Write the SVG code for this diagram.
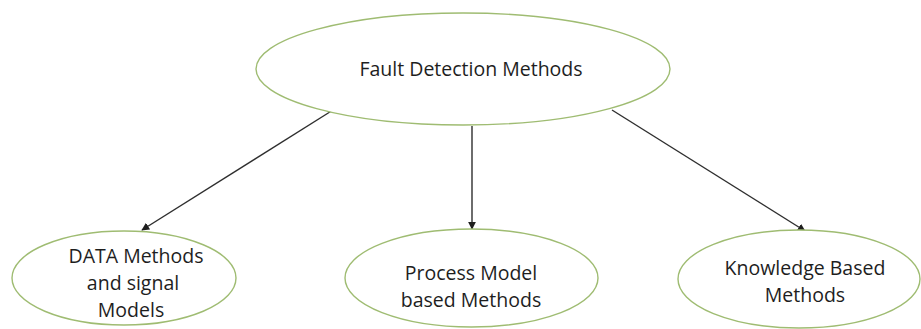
<svg xmlns="http://www.w3.org/2000/svg" width="921" height="329" viewBox="0 0 921 329">
  <style>
    .node { fill: #ffffff; stroke: #9fbc72; stroke-width: 1.4; }
    .label { font-family: "Open Sans", "Liberation Sans", sans-serif; font-size: 19.5px; fill: #1e1e1e; text-anchor: middle; }
    .edge { stroke: #2e2e2e; stroke-width: 1.4; fill: none; marker-end: url(#arrow); }
  </style>
  <defs>
    <marker id="arrow" viewBox="0 0 10 10" refX="9" refY="5" markerWidth="8" markerHeight="8" markerUnits="userSpaceOnUse" orient="auto">
      <path d="M0,0 L10,5 L0,10 Z" fill="#1e1e1e"/>
    </marker>
  </defs>
  <rect width="921" height="329" fill="#ffffff"/>

  <g id="connectors">
    <line class="edge" x1="333" y1="110" x2="142" y2="230"/>
    <line class="edge" x1="472" y1="126" x2="472" y2="229"/>
    <line class="edge" x1="612" y1="110" x2="805" y2="231"/>
  </g>

  <g id="fault-detection">
    <ellipse class="node" cx="463" cy="69" rx="207" ry="56"/>
    <text class="label" x="471" y="76">Fault Detection Methods</text>
  </g>

  <g id="data-methods">
    <ellipse class="node" cx="124" cy="278" rx="112" ry="47"/>
    <text class="label" x="136" y="263">DATA Methods</text>
    <text class="label" x="133" y="290">and signal</text>
    <text class="label" x="131" y="317">Models</text>
  </g>

  <g id="process-model">
    <ellipse class="node" cx="471.5" cy="278" rx="126.5" ry="49"/>
    <text class="label" x="471" y="280">Process Model</text>
    <text class="label" x="471" y="307">based Methods</text>
  </g>

  <g id="knowledge-based">
    <ellipse class="node" cx="799" cy="279" rx="121" ry="49"/>
    <text class="label" x="805" y="275">Knowledge Based</text>
    <text class="label" x="805" y="302">Methods</text>
  </g>
</svg>
